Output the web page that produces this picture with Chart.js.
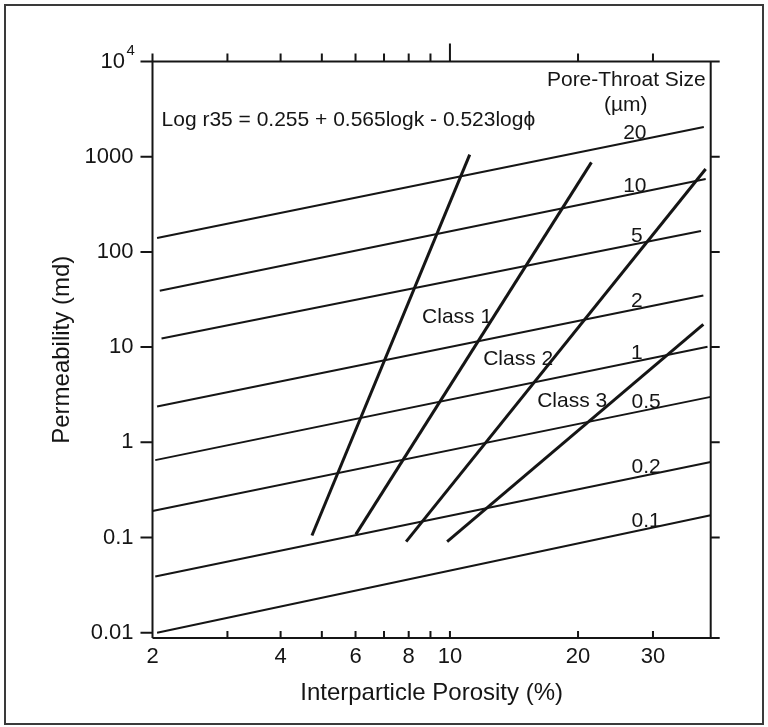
<!DOCTYPE html>
<html><head><meta charset="utf-8">
<script src="https://cdn.jsdelivr.net/npm/chart.js@4/dist/chart.umd.min.js"></script>
<style>html,body{margin:0;padding:0;background:#fff}#wrap{width:768px;height:727px}</style>
</head><body><div id="wrap"><canvas id="c" width="768" height="727"></canvas></div>
<script>
// ---- data ----
const poreSizes      = ['20', '10', '5', '2', '1', '0.5', '0.2', '0.1'];
const poreStartPhi   = [2.05, 2.08, 2.10, 2.05, 2.03, 2.0, 2.03, 2.05];
const poreStartK     = [140, 39, 12.3, 2.38, 0.65, 0.19, 0.039, 0.0100];
const poreEndPhi     = [39.5, 39.9, 38.9, 39.4, 40.3, 41, 41, 41];
const poreEndK       = [2050, 583, 166, 34.8, 10.1, 3.0, 0.62, 0.171];

const classStartPhi  = [4.74, 6.01, 7.89, 9.85];
const classStartK    = [0.105, 0.108, 0.0906, 0.0906];
const classEndPhi    = [11.13, 21.5, 39.9, 39.4];
const classEndK      = [1050, 871, 743, 17.3];
const classNames     = ['Class 1', 'Class 2', 'Class 3'];

const xTickValues = [2, 3, 4, 5, 6, 7, 8, 9, 10, 20, 30];
const xTickLabels = ['2', '', '4', '', '6', '', '8', '', '10', '20', '30'];
const yTickValues = [0.01, 0.1, 1, 10, 100, 1000, 10000];
const yTickLabels = ['0.01', '0.1', '1', '10', '100', '1000', ''];

const equationText = 'Log r35 = 0.255 + 0.565logk - 0.523log\u03D5';
const legendTitle  = 'Pore-Throat Size';
const legendUnit   = '(\u00B5m)';
const xTitle = 'Interparticle Porosity (%)';
const yTitle = 'Permeability (md)';

// annotation anchors (data units)
const poreLabelPhi  = [27.2, 27.2, 27.5, 27.5, 27.5, 28.9, 28.9, 28.9];
const classLabelPhi = [8.6, 11.97, 16.03];
const classLabelK   = [20.6, 7.41, 2.71];

// ---- build ----
const FONT = '"Liberation Sans", Arial, Helvetica, sans-serif';
const INK = '#151515';
const datasets = [];
poreSizes.forEach((s, i) => datasets.push({
  label: s + ' \u00B5m',
  data: [{x: poreStartPhi[i], y: poreStartK[i]}, {x: poreEndPhi[i], y: poreEndK[i]}],
  showLine: true, borderColor: INK, borderWidth: 2, pointRadius: 0, fill: false
}));
classStartPhi.forEach((p, i) => datasets.push({
  label: 'class boundary ' + (i + 1),
  data: [{x: p, y: classStartK[i]}, {x: classEndPhi[i], y: classEndK[i]}],
  showLine: true, borderColor: INK, borderWidth: 3, pointRadius: 0, fill: false
}));

function logInterp(x0, y0, x1, y1, x) {
  const t = (Math.log(x) - Math.log(x0)) / (Math.log(x1) - Math.log(x0));
  return Math.exp(Math.log(y0) + t * (Math.log(y1) - Math.log(y0)));
}

const decor = {
  id: 'decor',
  afterDraw(chart) {
    const {ctx, chartArea: a, scales: {x, y}} = chart;
    ctx.save();
    // outer frame
    ctx.strokeStyle = '#3a3a3a'; ctx.lineWidth = 2;
    ctx.strokeRect(5, 5, 758, 719);
    // axes box + ticks
    ctx.strokeStyle = INK; ctx.lineWidth = 2; ctx.lineCap = 'butt';
    ctx.beginPath();
    ctx.moveTo(a.left, a.top); ctx.lineTo(a.left, a.bottom);
    ctx.moveTo(a.left, a.bottom); ctx.lineTo(a.right + 9, a.bottom);
    ctx.moveTo(a.right, a.top); ctx.lineTo(a.right, a.bottom);
    ctx.moveTo(a.left, a.top); ctx.lineTo(a.right, a.top);
    yTickValues.forEach(v => {
      const py = y.getPixelForValue(v);
      ctx.moveTo(a.left - 12, py); ctx.lineTo(a.left, py);
      if (v > 0.01) { ctx.moveTo(a.right, py); ctx.lineTo(a.right + 9, py); }
    });
    xTickValues.forEach(v => {
      const px = x.getPixelForValue(v);
      ctx.moveTo(px, a.top); ctx.lineTo(px, a.top - (v === 10 ? 18 : 8));
      ctx.moveTo(px, a.bottom); ctx.lineTo(px, a.bottom - 7);
    });
    ctx.stroke();

    ctx.fillStyle = INK;
    // 10^4 label
    const py4 = y.getPixelForValue(10000);
    ctx.font = '22px ' + FONT; ctx.textAlign = 'right'; ctx.textBaseline = 'middle';
    ctx.fillText('10', a.left - 27.5, py4);
    ctx.font = '15px ' + FONT; ctx.textAlign = 'left';
    ctx.fillText('4', a.left - 26, py4 - 11);

    // pore-throat labels
    ctx.font = '21px ' + FONT; ctx.textAlign = 'center'; ctx.textBaseline = 'alphabetic';
    poreSizes.forEach((s, i) => {
      const phi = poreLabelPhi[i];
      const k = logInterp(poreStartPhi[i], poreStartK[i], poreEndPhi[i], poreEndK[i], phi);
      ctx.fillText(s, x.getPixelForValue(phi), y.getPixelForValue(k) - 2);
    });
    // class labels
    ctx.textAlign = 'left'; ctx.textBaseline = 'middle';
    classNames.forEach((c, i) => {
      ctx.fillText(c, x.getPixelForValue(classLabelPhi[i]), y.getPixelForValue(classLabelK[i]));
    });
    // equation and legend heading
    ctx.fillText(equationText, x.getPixelForValue(2.10), y.getPixelForValue(2390));
    ctx.textAlign = 'right';
    ctx.fillText(legendTitle, x.getPixelForValue(39.9), y.getPixelForValue(6430));
    ctx.textAlign = 'center';
    ctx.fillText(legendUnit, x.getPixelForValue(25.9), y.getPixelForValue(3516));
    ctx.restore();
  }
};

new Chart(document.getElementById('c'), {
  type: 'scatter',
  data: {datasets},
  options: {
    responsive: false, devicePixelRatio: 1, animation: false,
    layout: {padding: {left: 47.6, right: 57.3, top: 61.5, bottom: 19.6}},
    plugins: {legend: {display: false}, tooltip: {enabled: false}},
    scales: {
      x: {
        type: 'logarithmic', position: 'bottom', min: 2, max: 41,
        afterBuildTicks: s => { s.ticks = xTickValues.map(v => ({value: v})); },
        afterFit: s => { s.height = 69.4; },
        ticks: {autoSkip: false, maxRotation: 0, padding: 6, color: INK,
          font: {family: FONT, size: 22},
          callback: (v, i) => xTickLabels[i]},
        grid: {display: false, drawTicks: false},
        border: {display: false},
        title: {display: true, text: xTitle, color: INK, font: {family: FONT, size: 24}, padding: {top: 0, bottom: 0}}
      },
      y: {
        type: 'logarithmic', position: 'left', min: 0.0088, max: 10000,
        afterBuildTicks: s => { s.ticks = yTickValues.map(v => ({value: v})); },
        afterFit: s => { s.width = 104.9; },
        ticks: {autoSkip: false, padding: 19, color: INK,
          font: {family: FONT, size: 22},
          callback: (v, i) => yTickLabels[i]},
        grid: {display: false, drawTicks: false},
        border: {display: false},
        title: {display: true, text: yTitle, color: INK, font: {family: FONT, size: 24}, padding: {top: 0, bottom: 0}}
      }
    }
  },
  plugins: [decor]
});
</script>
</body></html>
